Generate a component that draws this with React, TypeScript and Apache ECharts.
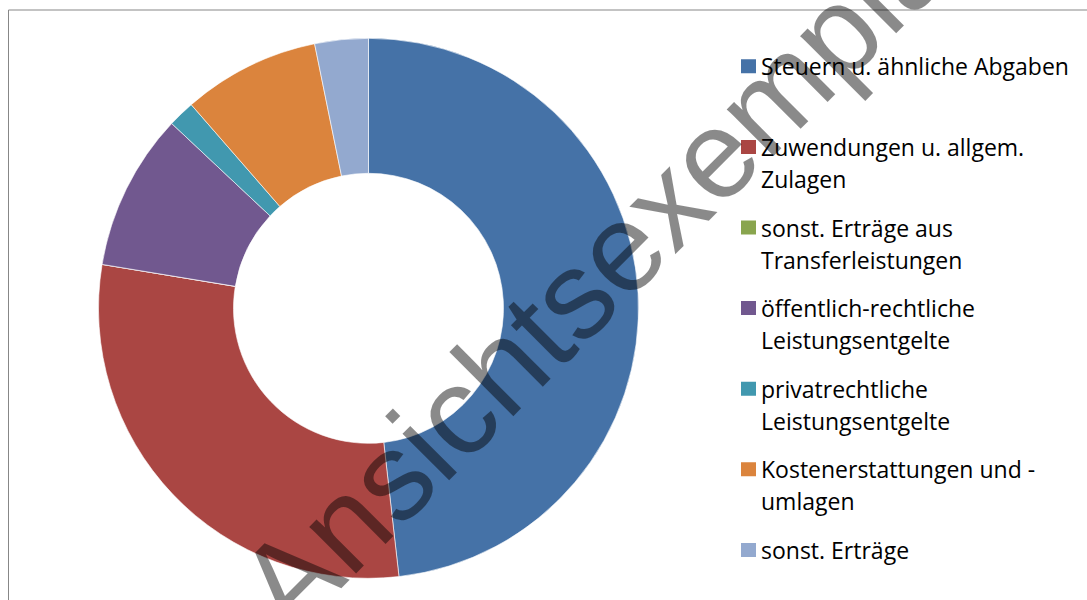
import { useEffect, useRef } from "react";
import * as echarts from "echarts";

const categories = [
  "Steuern u. ähnliche Abgaben",
  "Zuwendungen u. allgem. Zulagen",
  "sonst. Erträge aus Transferleistungen",
  "öffentlich-rechtliche Leistungsentgelte",
  "privatrechtliche Leistungsentgelte",
  "Kostenerstattungen und -umlagen",
  "sonst. Erträge",
];
const legendLabels = [
  "Steuern u. ähnliche Abgaben\n ",
  "Zuwendungen u. allgem.\nZulagen",
  "sonst. Erträge aus\nTransferleistungen",
  "öffentlich-rechtliche\nLeistungsentgelte",
  "privatrechtliche\nLeistungsentgelte",
  "Kostenerstattungen und -\numlagen",
  "sonst. Erträge\n ",
];
const shares = [48.2, 29.4, 0, 9.4, 1.6, 8.2, 3.2];
const colors = ["#4572A7", "#AA4643", "#89A54E", "#71588F", "#4198AF", "#DB843D", "#93A9CF"];
const watermark = "Ansichtsexemplar";

export default function App() {
  const ref = useRef<HTMLDivElement>(null);
  useEffect(() => {
    if (!ref.current) return;
    const chart = echarts.init(ref.current, undefined, { renderer: "svg" });
    chart.setOption({
      animation: false,
      backgroundColor: "#ffffff",
      color: colors,
      legend: {
        orient: "vertical",
        left: 741,
        top: 50.3,
        height: 590,
        padding: 0,
        itemGap: 16.6,
        itemWidth: 15,
        itemHeight: 46,
        icon: "path://M0,0h15v14h-15zM15,46h-15",
        itemStyle: { borderWidth: 0 },
        selectedMode: false,
        formatter: (name: string) => legendLabels[categories.indexOf(name)],
        textStyle: {
          fontFamily: "Open Sans",
          fontSize: 23,
          color: "#000000",
          lineHeight: 32,
        },
        data: categories,
      },
      graphic: [
        {
          type: "rect",
          z: 0,
          shape: { x: 8.5, y: 10, width: 1200, height: 700 },
          style: { fill: "none", stroke: "#878787", lineWidth: 1 },
        },
        {
          type: "text",
          z: 100,
          x: 609,
          y: 259,
          rotation: Math.PI / 4,
          style: {
            text: watermark,
            fontSize: 125,
            fontFamily: "Liberation Sans",
            fill: "rgba(0,0,0,0.46)",
            align: "center",
            verticalAlign: "middle",
          },
        },
      ],
      series: [
        {
          type: "pie",
          center: [368.5, 308.3],
          radius: [135, 270],
          startAngle: 90,
          clockwise: true,
          avoidLabelOverlap: false,
          label: { show: false },
          labelLine: { show: false },
          emphasis: { disabled: true },
          itemStyle: { borderColor: "#ffffff", borderWidth: 0.6 },
          data: categories.map((name, i) => ({ name, value: shares[i] })),
        },
      ],
    });
    return () => chart.dispose();
  }, []);
  return (
    <div
      ref={ref}
      style={{ position: "absolute", left: 0, top: 0, width: 1087, height: 600, background: "#fff" }}
    />
  );
}
